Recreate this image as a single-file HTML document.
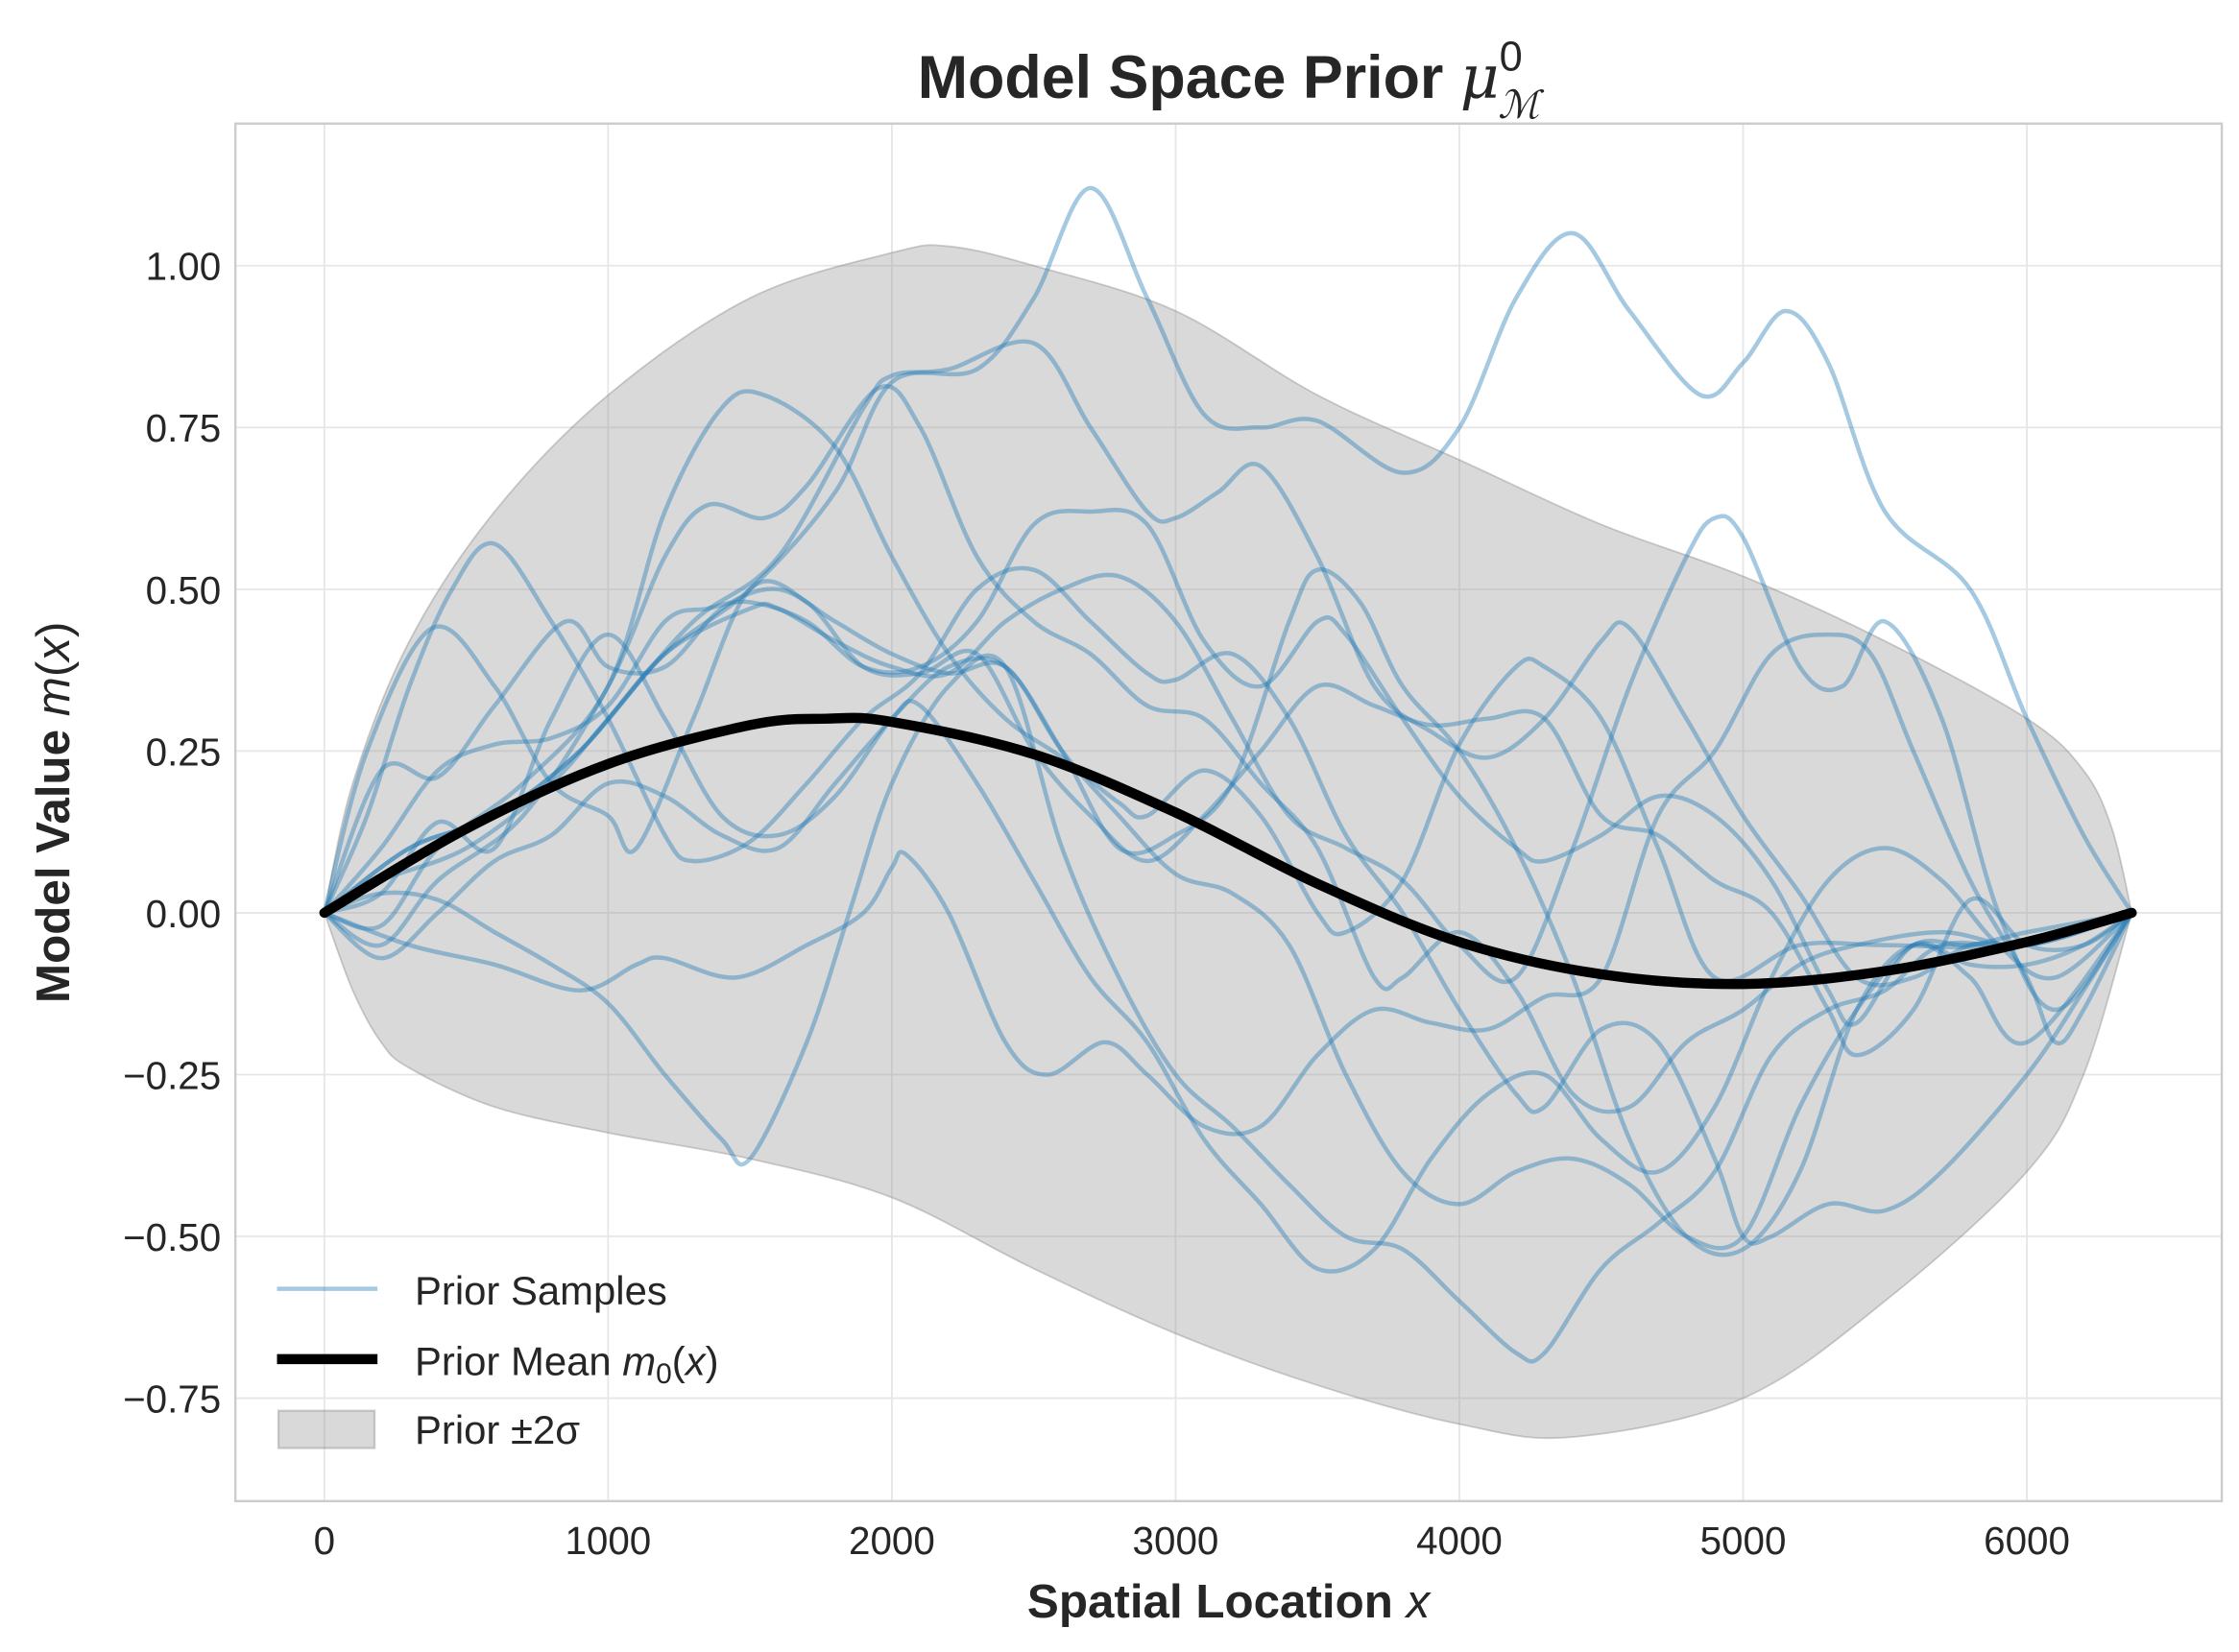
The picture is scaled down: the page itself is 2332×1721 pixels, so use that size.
<!DOCTYPE html>
<html><head><meta charset="utf-8"><style>
html,body{margin:0;padding:0;background:#fff}
svg{display:block}
text{font-family:"Liberation Sans","DejaVu Sans",sans-serif;fill:#262626}
</style></head><body>
<svg id="chart" width="2332" height="1721" viewBox="0 0 1560 1151" xmlns="http://www.w3.org/2000/svg">
<rect width="1560" height="1151" fill="#fff"/>
<g id="grid"></g>
<g id="band"></g>
<g id="samples"></g>
<g id="meanG"></g>
<rect x="164" y="86" width="1384" height="960" fill="none" stroke="#cccccc" stroke-width="1.6"/>
<g id="ticks"></g>
<text x="856" y="68" text-anchor="middle" font-size="42" font-weight="bold">Model Space Prior <tspan font-style="italic" font-weight="normal" font-family="DejaVu Serif, serif">μ</tspan><tspan font-size="29" dy="-19" font-weight="normal">0</tspan><tspan font-size="27" dx="-17" dy="33" font-style="italic" font-weight="normal" font-family="DejaVu Serif, serif">ℳ</tspan></text>
<text x="856" y="1127" text-anchor="middle" font-size="33" font-weight="bold">Spatial Location <tspan font-style="italic" font-weight="normal">x</tspan></text>
<text transform="translate(48,566) rotate(-90)" text-anchor="middle" font-size="33" font-weight="bold">Model Value <tspan font-style="italic" font-weight="normal">m</tspan><tspan font-weight="normal">(</tspan><tspan font-style="italic" font-weight="normal">x</tspan><tspan font-weight="normal">)</tspan></text>
<g>
<line x1="193" y1="898" x2="263" y2="898" stroke="#1f77b4" stroke-opacity="0.4" stroke-width="3"/>
<text x="289" y="909" font-size="28">Prior Samples</text>
<line x1="193" y1="947" x2="263" y2="947" stroke="#000" stroke-width="7"/>
<text x="289" y="958" font-size="28">Prior Mean <tspan font-style="italic">m</tspan><tspan font-size="20" dy="6">0</tspan><tspan dy="-6">(</tspan><tspan font-style="italic">x</tspan>)</text>
<rect x="194" y="983" width="67" height="26" fill="#999" fill-opacity="0.37" stroke="#888" stroke-opacity="0.4" stroke-width="1.5"/>
<text x="289" y="1006" font-size="28">Prior ±2σ</text>
</g>
</svg>
<script>
const xTicks=[0,1000,2000,3000,4000,5000,6000];
const yTicks=[-0.75,-0.5,-0.25,0,0.25,0.5,0.75,1.0];
const yTickLabels=["−0.75","−0.50","−0.25","0.00","0.25","0.50","0.75","1.00"];
const meanData=[[0,0],[500,0.13],[1000,0.23],[1500,0.29],[1770,0.30],[2000,0.295],[2500,0.245],[3000,0.155],[3500,0.045],[4000,-0.045],[4500,-0.095],[5000,-0.11],[5500,-0.09],[6000,-0.045],[6370,0]];
const bandUpper=[[0,0],[100,0.2],[300,0.42],[600,0.62],[1000,0.8],[1500,0.95],[2000,1.02],[2200,1.03],[2500,1.0],[3000,0.93],[3500,0.8],[4000,0.7],[4500,0.6],[5000,0.52],[5500,0.42],[6000,0.3],[6200,0.22],[6300,0.13],[6370,0]];
const bandLower=[[0,0],[100,-0.12],[200,-0.2],[300,-0.24],[600,-0.3],[1000,-0.34],[1500,-0.38],[2000,-0.44],[2500,-0.55],[3000,-0.65],[3500,-0.73],[4000,-0.79],[4400,-0.81],[5000,-0.75],[5500,-0.6],[6000,-0.4],[6200,-0.25],[6370,0]];
const s1=[[0,0],[300,0.1],[600,0.15],[900,0.25],[1200,0.4],[1500,0.5],[1800,0.65],[2000,0.82],[2300,0.84],[2500,0.95],[2700,1.12],[2900,0.95],[3100,0.77],[3300,0.75],[3500,0.76],[3800,0.68],[4000,0.75],[4200,0.95],[4400,1.05],[4600,0.93],[4850,0.8],[5000,0.85],[5150,0.93],[5300,0.85],[5500,0.62],[5800,0.5],[6000,0.3],[6200,0.12],[6370,0]];
const s2=[[0,0],[200,0.05],[500,0.1],[800,0.2],[1000,0.3],[1300,0.45],[1600,0.55],[1900,0.78],[2000,0.83],[2200,0.84],[2500,0.88],[2700,0.75],[2900,0.62],[3000,0.61],[3150,0.65],[3300,0.69],[3500,0.55],[3700,0.35],[3900,0.28],[4100,0.24],[4300,0.3],[4500,0.42],[4600,0.44],[4800,0.3],[5000,0.15],[5200,0.03],[5400,-0.1],[5600,-0.1],[5800,-0.05],[6000,-0.05],[6200,-0.02],[6370,0]];
const s3=[[0,0],[200,-0.02],[400,0.1],[700,0.2],[1000,0.35],[1200,0.62],[1400,0.78],[1550,0.8],[1800,0.72],[2000,0.55],[2200,0.4],[2400,0.3],[2600,0.24],[2800,0.17],[2900,0.15],[3100,0.22],[3300,0.15],[3500,0.0],[3600,-0.03],[3800,0.05],[4000,0.26],[4200,0.38],[4300,0.38],[4500,0.3],[4700,0.1],[4900,-0.1],[5200,-0.05],[5500,-0.05],[6000,-0.05],[6370,0]];
const s4=[[0,0],[200,-0.05],[400,0.05],[700,0.15],[1000,0.35],[1200,0.55],[1350,0.63],[1550,0.61],[1700,0.66],[1950,0.81],[2100,0.75],[2300,0.55],[2500,0.45],[2700,0.4],[2900,0.32],[3100,0.3],[3300,0.2],[3500,0.1],[3700,-0.1],[3800,-0.1],[4000,-0.03],[4200,-0.12],[4400,-0.28],[4600,-0.3],[4800,-0.2],[5000,-0.15],[5200,-0.08],[5400,-0.05],[5700,-0.03],[6000,-0.05],[6370,0]];
const s5=[[0,0],[150,0.15],[300,0.35],[450,0.5],[600,0.57],[800,0.45],[1000,0.3],[1200,0.12],[1300,0.08],[1500,0.11],[1700,0.2],[1900,0.3],[2100,0.37],[2300,0.5],[2500,0.53],[2700,0.45],[2900,0.37],[3000,0.36],[3200,0.4],[3400,0.3],[3600,0.12],[3800,0.0],[4000,-0.15],[4200,-0.28],[4300,-0.3],[4500,-0.18],[4700,-0.2],[4900,-0.38],[5000,-0.5],[5100,-0.5],[5300,-0.45],[5500,-0.46],[5700,-0.4],[6000,-0.25],[6200,-0.12],[6370,0]];
const s6=[[0,0],[150,0.25],[380,0.44],[600,0.35],[800,0.2],[1000,0.15],[1100,0.1],[1300,0.3],[1500,0.5],[1700,0.48],[1900,0.38],[2100,0.37],[2300,0.4],[2500,0.25],[2700,0.15],[2900,0.08],[3100,0.15],[3300,0.25],[3500,0.35],[3700,0.32],[3900,0.29],[4100,0.3],[4300,0.3],[4500,0.15],[4700,0.12],[4900,0.05],[5100,0.0],[5300,-0.15],[5400,-0.22],[5600,-0.15],[5800,0.02],[6000,-0.05],[6200,-0.05],[6370,0]];
const s7=[[0,0],[200,0.22],[400,0.21],[600,0.32],[850,0.45],[1000,0.38],[1200,0.38],[1400,0.47],[1600,0.5],[1800,0.45],[2000,0.4],[2200,0.37],[2400,0.38],[2600,0.25],[2800,0.15],[3000,0.06],[3200,0.03],[3400,-0.05],[3600,-0.25],[3800,-0.4],[4000,-0.45],[4200,-0.4],[4400,-0.38],[4600,-0.42],[4800,-0.5],[5000,-0.5],[5200,-0.3],[5400,-0.15],[5600,-0.05],[5800,-0.05],[6000,-0.03],[6370,0]];
const s8=[[0,0],[200,0.03],[400,0.02],[600,-0.03],[800,-0.08],[1000,-0.14],[1200,-0.25],[1400,-0.35],[1500,-0.38],[1700,-0.2],[1850,0.0],[2000,0.2],[2200,0.35],[2400,0.38],[2600,0.1],[2800,-0.1],[3000,-0.25],[3200,-0.33],[3400,-0.42],[3600,-0.5],[3800,-0.52],[4000,-0.6],[4200,-0.68],[4300,-0.68],[4500,-0.55],[4700,-0.48],[4900,-0.4],[5100,-0.22],[5300,-0.15],[5500,-0.12],[5700,-0.05],[6000,-0.05],[6370,0]];
const s9=[[0,0],[300,-0.05],[600,-0.08],[900,-0.12],[1100,-0.08],[1200,-0.07],[1450,-0.1],[1700,-0.05],[1900,0.0],[2000,0.07],[2050,0.09],[2200,0.0],[2400,-0.2],[2550,-0.25],[2750,-0.2],[2900,-0.25],[3100,-0.33],[3300,-0.33],[3500,-0.22],[3700,-0.15],[3900,-0.17],[4100,-0.18],[4300,-0.13],[4500,-0.1],[4700,0.15],[4900,0.25],[5100,0.4],[5300,0.43],[5450,0.4],[5600,0.25],[5800,0.05],[6000,-0.1],[6100,-0.2],[6200,-0.15],[6370,0]];
const s10=[[0,0],[300,0.1],[600,0.15],[900,0.25],[1200,0.4],[1500,0.47],[1600,0.47],[1800,0.42],[2000,0.38],[2200,0.37],[2400,0.45],[2600,0.5],[2800,0.52],[3000,0.45],[3200,0.3],[3400,0.15],[3600,0.1],[3800,0.05],[4000,-0.05],[4200,-0.1],[4400,0.1],[4600,0.35],[4800,0.55],[4900,0.61],[5000,0.58],[5200,0.38],[5350,0.35],[5500,0.45],[5700,0.3],[5900,0.0],[6100,-0.15],[6370,0]];
const s11=[[0,0],[200,0.1],[400,0.22],[600,0.26],[800,0.27],[1000,0.32],[1200,0.45],[1350,0.47],[1500,0.48],[1700,0.45],[1900,0.38],[2100,0.38],[2300,0.45],[2500,0.6],[2700,0.62],[2900,0.6],[3100,0.42],[3300,0.35],[3500,0.45],[3600,0.43],[3800,0.3],[4000,0.18],[4200,0.1],[4300,0.08],[4500,0.12],[4700,0.18],[4900,0.15],[5100,0.05],[5300,-0.12],[5400,-0.17],[5600,-0.05],[5800,-0.08],[6000,-0.08],[6200,-0.05],[6370,0]];
const s12=[[0,0],[200,0.03],[400,0.14],[600,0.1],[800,0.3],[1000,0.43],[1200,0.3],[1400,0.15],[1600,0.12],[1800,0.18],[2000,0.3],[2100,0.32],[2300,0.2],[2500,0.05],[2700,-0.1],[2900,-0.2],[3100,-0.35],[3300,-0.45],[3500,-0.55],[3700,-0.52],[3900,-0.38],[4100,-0.28],[4300,-0.25],[4500,-0.35],[4700,-0.4],[4900,-0.3],[5100,-0.1],[5300,0.05],[5500,0.1],[5700,0.05],[5900,-0.05],[6100,-0.1],[6370,0]];
const s13=[[0,0],[200,-0.07],[400,0.0],[600,0.08],[800,0.12],[1000,0.2],[1200,0.18],[1400,0.12],[1600,0.1],[1800,0.2],[2000,0.3],[2200,0.38],[2400,0.38],[2600,0.25],[2800,0.1],[3000,0.12],[3200,0.2],[3400,0.45],[3500,0.53],[3650,0.48],[3800,0.35],[4000,0.25],[4200,0.1],[4400,-0.1],[4600,-0.35],[4800,-0.5],[5000,-0.52],[5200,-0.4],[5400,-0.15],[5600,-0.05],[5800,-0.1],[6000,-0.2],[6370,0]];
const sampleSeries=[s1,s2,s3,s4,s5,s6,s7,s8,s9,s10,s11,s12,s13];

const X0=226, XPER=0.1977, Y0=636, YPER=451;
function sx(v){return X0+v*XPER;}
function sy(v){return Y0-v*YPER;}
const NS="http://www.w3.org/2000/svg";
function smooth(pts){
  const p=pts.map(d=>[sx(d[0]),sy(d[1])]);
  let d="M"+p[0][0].toFixed(1)+","+p[0][1].toFixed(1);
  for(let i=0;i<p.length-1;i++){
    const p0=p[Math.max(0,i-1)],p1=p[i],p2=p[i+1],p3=p[Math.min(p.length-1,i+2)];
    const c1=[p1[0]+(p2[0]-p0[0])/6,p1[1]+(p2[1]-p0[1])/6];
    const c2=[p2[0]-(p3[0]-p1[0])/6,p2[1]-(p3[1]-p1[1])/6];
    d+="C"+c1[0].toFixed(1)+","+c1[1].toFixed(1)+" "+c2[0].toFixed(1)+","+c2[1].toFixed(1)+" "+p2[0].toFixed(1)+","+p2[1].toFixed(1);
  }
  return d;
}
const grid=document.getElementById('grid'), ticks=document.getElementById('ticks');
xTicks.forEach(v=>{
  const l=document.createElementNS(NS,'line');
  l.setAttribute('x1',sx(v));l.setAttribute('x2',sx(v));l.setAttribute('y1',86);l.setAttribute('y2',1046);
  l.setAttribute('stroke','#e6e6e6');l.setAttribute('stroke-width','1.2');
  
  
  grid.appendChild(l);
  const t=document.createElementNS(NS,'text');
  t.setAttribute('x',sx(v));t.setAttribute('y',1083);t.setAttribute('text-anchor','middle');t.setAttribute('font-size','27');
  t.textContent=String(v);
  
  
  ticks.appendChild(t);
});
yTicks.forEach((v,i)=>{
  const l=document.createElementNS(NS,'line');
  l.setAttribute('x1',164);l.setAttribute('x2',1548);l.setAttribute('y1',sy(v));l.setAttribute('y2',sy(v));
  l.setAttribute('stroke','#e6e6e6');l.setAttribute('stroke-width','1.2');
  
  
  grid.appendChild(l);
  const t=document.createElementNS(NS,'text');
  t.setAttribute('x',154);t.setAttribute('y',sy(v)+10);t.setAttribute('text-anchor','end');t.setAttribute('font-size','27');
  t.textContent=yTickLabels[i];
  
  
  ticks.appendChild(t);
});
const up=smooth(bandUpper);
const lowRev=bandLower.slice().reverse();
const lo=smooth(lowRev).replace(/^M/,'L');
const band=document.createElementNS(NS,'path');
band.setAttribute('d',up+lo+'Z');
band.setAttribute('fill','#999');band.setAttribute('fill-opacity','0.37');
band.setAttribute('stroke','#777');band.setAttribute('stroke-opacity','0.35');band.setAttribute('stroke-width','1.2');


document.getElementById('band').appendChild(band);
const sg=document.getElementById('samples');
sampleSeries.forEach((s,i)=>{
  const p=document.createElementNS(NS,'path');
  p.setAttribute('d',smooth(s));p.setAttribute('fill','none');
  p.setAttribute('stroke','#1f77b4');p.setAttribute('stroke-opacity','0.4');p.setAttribute('stroke-width','3');
  
  
  sg.appendChild(p);
});
const m=document.createElementNS(NS,'path');
m.setAttribute('d',smooth(meanData));m.setAttribute('fill','none');
m.setAttribute('stroke','#000');m.setAttribute('stroke-width','7');m.setAttribute('stroke-linecap','round');


document.getElementById('meanG').appendChild(m);
</script>
</body></html>
